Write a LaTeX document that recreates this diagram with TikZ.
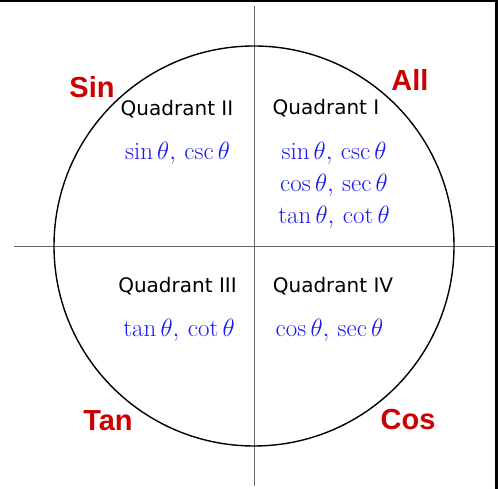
\RequirePackage{fix-cm}
\documentclass[tikz,border=0pt]{standalone}
\usepackage{amsmath}
\usepackage{fontspec}
\usetikzlibrary{positioning}
\newfontfamily\quadfont{DejaVu Sans}
\newfontfamily\signfont{Liberation Sans}
\definecolor{signred}{RGB}{204,0,0}
\definecolor{fnblue}{RGB}{25,25,240}

\begin{document}
\begin{tikzpicture}[x=1pt, y=1pt,
  sign/.style={text=signred, font=\signfont\bfseries\fontsize{29}{29}\selectfont, inner sep=0pt},
  quad/.style={font=\quadfont\fontsize{20}{20}\selectfont, anchor=base, inner sep=0pt},
  fn/.style={text=fnblue, font=\fontsize{25}{25}\selectfont, anchor=base, inner sep=0pt},
  axis/.style={draw=black!60, line width=0.9pt}
]
\useasboundingbox (0,0) rectangle (501,489);
% frame
\draw[line width=2.5pt] (0,487.75) -- (496.25,487.75) -- (496.25,0);

% axes and circle
\coordinate (o) at (254,243);
\coordinate (xl) at (14,243);
\coordinate (xr) at (495,243);
\coordinate (yt) at (254,483);
\coordinate (yb) at (254,3);
\draw[axis] (xl) -- (xr);
\draw[axis] (yt) -- (yb);
\draw[line width=1.4pt] (o) circle (200);

% signs
\node[sign] (sin) at (92,402) {Sin};
\node[sign] (all) at (410,409) {All};
\node[sign] (tan) at (108,68.5) {Tan};
\node[sign] (cos) at (408,69) {Cos};

% quadrants
\node[quad] (q2) at (177,373) {Quadrant II};
\node[quad] (q1) at (326,374) {Quadrant I};
\node[quad] (q3) at (177.5,196) {Quadrant III};
\node[quad] (q4) at (333,196.5) {Quadrant IV};

% functions
\node[fn] (f2) at (177.5,329) {$\sin\theta,\,\csc\theta$};
\node[fn] (f1a) at (334,329) {$\sin\theta,\,\csc\theta$};
\node[fn] (f1b) at (334,297) {$\cos\theta,\,\sec\theta$};
\node[fn] (f1c) at (334,265) {$\tan\theta,\,\cot\theta$};
\node[fn] (f3) at (179,152) {$\tan\theta,\,\cot\theta$};
\node[fn] (f4) at (329.5,152) {$\cos\theta,\,\sec\theta$};
\end{tikzpicture}
\end{document}
